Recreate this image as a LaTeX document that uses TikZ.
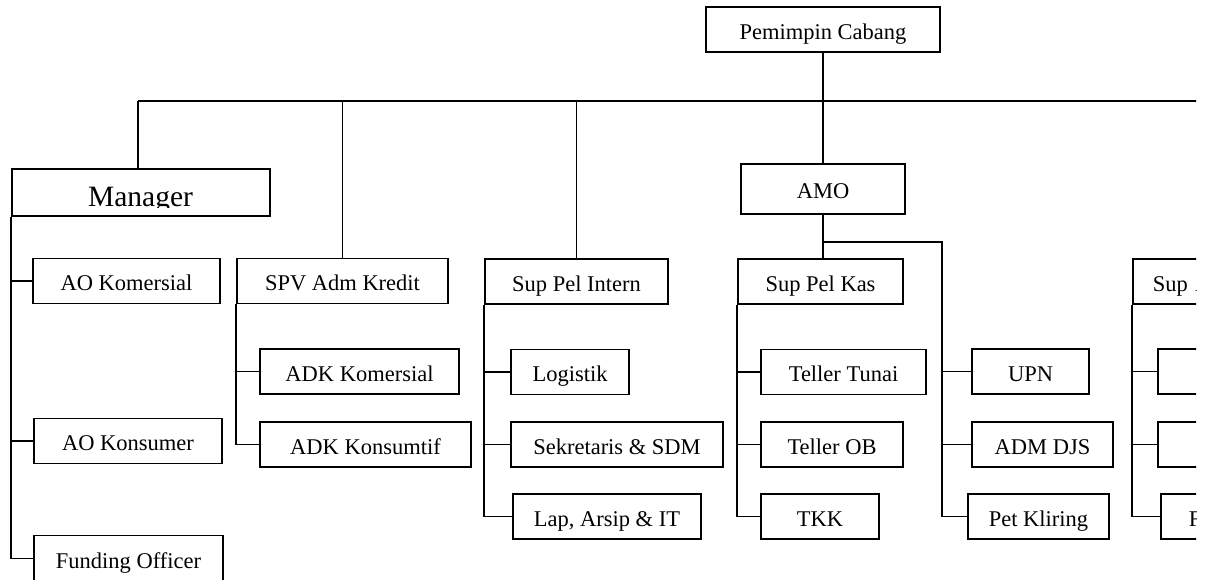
\documentclass[tikz,border=0pt]{standalone}
\usepackage{fontspec}
\setmainfont{Liberation Serif}
\usetikzlibrary{calc}
\tikzset{orgbox/.style={draw,line width=1pt,inner sep=0pt,minimum height=.9cm,text height=11.5pt,text depth=.5pt,font=\fontsize{12.8}{15}\selectfont},cutbox/.style={orgbox,anchor=west,align=left,minimum width=3.8cm},mgrtext/.style={inner sep=0pt,font=\fontsize{16.8}{20}\selectfont},link/.style={line width=1pt}}

\begin{document}
\begin{tikzpicture}[x=.02cm,y=-.02cm]
\useasboundingbox (0,0) rectangle (1212,579);
\clip (0,0) rectangle (1196,579);
\node[orgbox,minimum width=4.68cm] (pinca) at (823,29.5) {Pemimpin Cabang};
\node[orgbox,minimum width=5.16cm,minimum height=.94cm] (mgr) at (141,192.5) {};
\begin{scope}
\clip (12,169) rectangle (270,207.5);
\node[mgrtext,anchor=base] (mgrlabel) at (140.5,206.5) {Manager};
\end{scope}
\node[orgbox,minimum width=3.28cm,minimum height=1cm] (amo) at (823,189) {AMO};
\node[orgbox,minimum width=3.74cm] (aokom) at (126.5,281) {AO Komersial};
\node[orgbox,minimum width=3.76cm] (aokon) at (128,441) {AO Konsumer};
\node[orgbox,minimum width=3.78cm,minimum height=.92cm] (fund) at (128.5,558.5) {Funding Officer};
\node[orgbox,minimum width=4.22cm] (spv) at (342.5,281) {SPV Adm Kredit};
\node[orgbox,minimum width=3.98cm] (adkkom) at (359.5,371.5) {ADK Komersial};
\node[orgbox,minimum width=4.22cm] (adkkon) at (365.5,444.5) {ADK Konsumtif};
\node[orgbox,minimum width=3.66cm] (spi) at (576.5,281.5) {Sup Pel Intern};
\node[orgbox,minimum width=2.36cm] (logistik) at (570,372) {Logistik};
\node[orgbox,minimum width=4.24cm] (sekr) at (617,444.5) {Sekretaris \& SDM};
\node[orgbox,minimum width=3.76cm] (lap) at (607,516.5) {Lap, Arsip \& IT};
\node[orgbox,minimum width=3.3cm] (spk) at (820.5,281.5) {Sup Pel Kas};
\node[orgbox,minimum width=3.3cm] (tunai) at (843.5,372) {Teller Tunai};
\node[orgbox,minimum width=2.84cm] (tob) at (832,444.5) {Teller OB};
\node[orgbox,minimum width=2.36cm] (tkk) at (820,516.5) {TKK};
\node[orgbox,minimum width=2.34cm] (upn) at (1030.5,371.5) {UPN};
\node[orgbox,minimum width=2.82cm] (admdjs) at (1042.5,444.5) {ADM DJS};
\node[orgbox,minimum width=2.82cm] (petk) at (1038.5,516.5) {Pet Kliring};
\node[cutbox,inner xsep=.4cm,text width=3cm] (supa) at (1132,281.5) {Sup A};
\node[cutbox] (ra1) at (1157,371.5) {};
\node[cutbox] (ra2) at (1157,444.5) {};
\node[cutbox,inner xsep=.56cm,text width=2.68cm] (ra3) at (1160,516.5) {F};
\coordinate (busL) at (138,101);
\coordinate (busR) at (1212,101);
\coordinate (amorail) at (942,242);
\draw[link] (pinca.south) -- (amo.north);
\draw[link] (busL) -- (busR);
\draw[link] (busL) -- (busL |- mgr.north);
\draw[link] (spv.north) -- (spv.north |- busL);
\draw[link] (spi.north) -- (spi.north |- busL);
\draw[link] (amo.south) -- (amo.south |- spk.north);
\draw[link] (amo.south |- amorail) -- (amorail) |- (petk.west);
\foreach \n in {upn,admdjs} \draw[link] (amorail |- \n.west) -- (\n.west);
\draw[link] (mgr.south west) |- (fund.west);
\foreach \n in {aokom,aokon} \draw[link] (mgr.south west |- \n.west) -- (\n.west);
\draw[link] (spv.south west) |- (adkkon.west);
\draw[link] (spv.south west |- adkkom.west) -- (adkkom.west);
\draw[link] (spi.south west) |- (lap.west);
\foreach \n in {logistik,sekr} \draw[link] (spi.south west |- \n.west) -- (\n.west);
\draw[link] (spk.south west) |- (tkk.west);
\foreach \n in {tunai,tob} \draw[link] (spk.south west |- \n.west) -- (\n.west);
\draw[link] (supa.south west) |- (ra3.west);
\foreach \n in {ra1,ra2} \draw[link] (supa.south west |- \n.west) -- (\n.west);
\end{tikzpicture}
\end{document}
